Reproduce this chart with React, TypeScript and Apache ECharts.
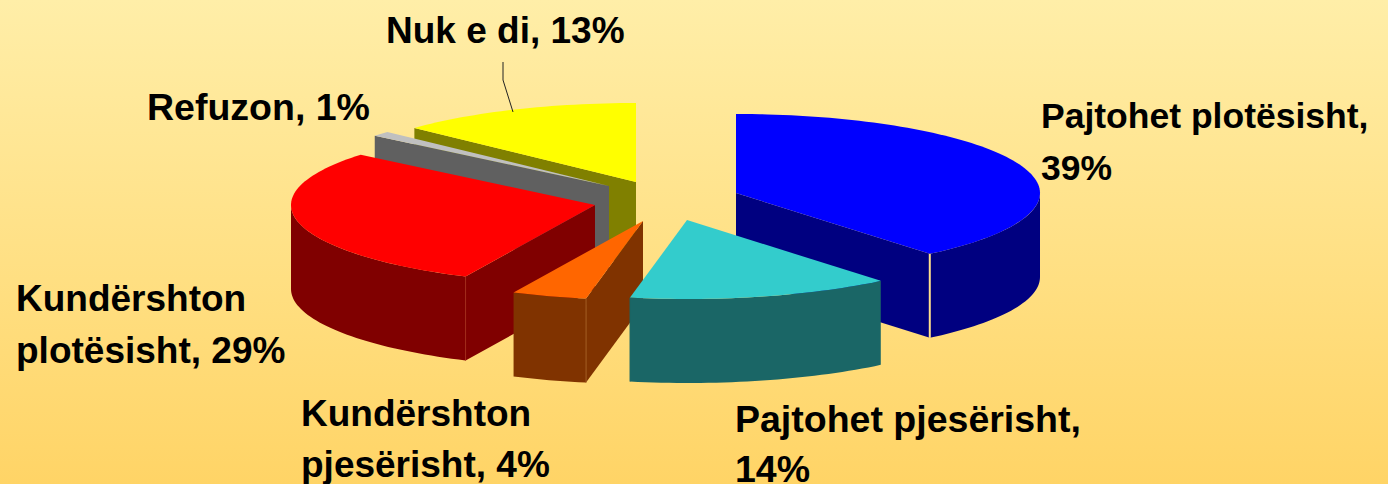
import React, { useEffect, useRef } from "react";
import * as echarts from "echarts";

const categories = ["Pajtohet plotësisht", "Pajtohet pjesërisht", "Kundërshton pjesërisht", "Kundërshton plotësisht", "Refuzon", "Nuk e di"];
const shares = [39, 14, 4, 29, 1, 13];

const topColors = ["#0000ff", "#33cccc", "#ff6600", "#ff0000", "#c0c0c0", "#ffff00"];
const wallColors = ["#000080", "#1a6666", "#803300", "#800000", "#606060", "#808000"];
const seamColors = ["#ffe08c", "#1a6666", "#a05a20", "#a02a1a", "#606060", "#808000"];
const seamWidths = [2, 1, 1, 1, 1, 1];
const apexX = [736, 687, 643, 595, 609, 636];
const apexY = [193, 220, 221, 205, 186, 182];
const paintOrder = [5, 4, 0, 3, 2, 1];

const labelX = [1041, 735, 301, 16, 147, 386];
const labelY = [90, 394, 388, 272, 81, 4];
const labelSizes = [35.5, 37.5, 37, 37, 37.5, 37];
const labelLineHeights = [52, 50, 51, 52, 52, 52];
const labelWraps = ["tail", "tail", "word", "word", "none", "none"];

const RX = 304;
const RY = 79;
const DEPTH = 84;
const rad = (d: number) => (d * Math.PI) / 180;

function labelText(i: number) {
  const name = categories[i];
  const tail = `${shares[i]}%`;
  if (labelWraps[i] === "tail") return `${name},\n${tail}`;
  if (labelWraps[i] === "word") return `${name.replace(" ", "\n")}, ${tail}`;
  return `${name}, ${tail}`;
}

export default function App() {
  const ref = useRef<HTMLDivElement>(null);
  useEffect(() => {
    document.body.style.margin = "0";
    document.documentElement.style.overflow = "hidden";
    const chart = echarts.init(ref.current!, null, { renderer: "svg" });
    const total = shares.reduce((a, b) => a + b, 0);
    const starts: number[] = [];
    shares.reduce((acc, v, i) => {
      starts[i] = acc;
      return acc + (v / total) * 360;
    }, 0);

    const renderItem = (params: any, api: any) => {
      const i = params.dataIndex;
      const value = api.value(0);
      const a0 = starts[i];
      const a1 = a0 + (value / total) * 360;
      const cx = apexX[i];
      const cy = apexY[i];
      const pt = (a: number, dz = 0) => [cx + RX * Math.sin(rad(a)), cy - RY * Math.cos(rad(a)) + dz];
      const arc = (from: number, to: number, dz = 0) => {
        const n = Math.max(2, Math.ceil((to - from) / 1.5));
        const out: number[][] = [];
        for (let k = 0; k <= n; k++) out.push(pt(from + ((to - from) * k) / n, dz));
        return out;
      };
      const z = paintOrder.indexOf(i) * 10;
      const children: any[] = [];
      const sA0 = Math.sin(rad(a0));
      const sA1 = Math.sin(rad(a1));
      const addFace = (a: number) => {
        const p = pt(a);
        const q = pt(a, DEPTH);
        children.push({
          type: "polygon",
          z2: z + 1,
          shape: { points: [[cx, cy], p, q, [cx, cy + DEPTH]] },
          style: { fill: wallColors[i] },
        });
      };
      if (sA0 < -1e-6) addFace(a0);
      if (sA1 > 1e-6) addFace(a1);
      const w0 = Math.max(a0, 90);
      const w1 = Math.min(a1, 270);
      if (w1 > w0) {
        children.push({
          type: "polygon",
          z2: z + 2,
          shape: { points: [...arc(w0, w1), ...arc(w0, w1, DEPTH).reverse()] },
          style: { fill: wallColors[i] },
        });
        const seamAngle = sA0 < -1e-6 ? a0 : a1;
        const s = pt(seamAngle);
        const e = pt(seamAngle, DEPTH);
        children.push({
          type: "line",
          z2: z + 3,
          shape: { x1: s[0], y1: s[1], x2: e[0], y2: e[1] },
          style: { stroke: seamColors[i], lineWidth: seamWidths[i] },
        });
      }
      children.push({
        type: "polygon",
        z2: z + 4,
        shape: { points: [[cx, cy], ...arc(a0, a1)] },
        style: { fill: topColors[i] },
      });
      return { type: "group", children };
    };

    chart.setOption({
      animation: false,
      backgroundColor: {
        type: "linear",
        x: 0,
        y: 0,
        x2: 0,
        y2: 1,
        colorStops: [
          { offset: 0, color: "#ffeea8" },
          { offset: 1, color: "#ffd466" },
        ],
      },
      series: [
        {
          type: "custom",
          coordinateSystem: "none",
          silent: true,
          renderItem,
          data: shares.map((v) => [v]),
        },
      ],
      graphic: [
        {
          type: "polyline",
          z: 10,
          shape: { points: [[503, 62], [503, 80], [513, 112]] },
          style: { stroke: "#222", lineWidth: 1, fill: "none" },
        },
        ...categories.map((_, i) => ({
          type: "text",
          z: 10,
          x: labelX[i],
          y: labelY[i],
          style: {
            text: labelText(i),
            fill: "#000",
            font: `bold ${labelSizes[i]}px "Liberation Sans", Arial, sans-serif`,
            lineHeight: labelLineHeights[i],
            textAlign: "left",
            textVerticalAlign: "top",
          },
        })),
      ],
    });
    return () => chart.dispose();
  }, []);
  return <div ref={ref} style={{ width: 1388, height: 484 }} />;
}
